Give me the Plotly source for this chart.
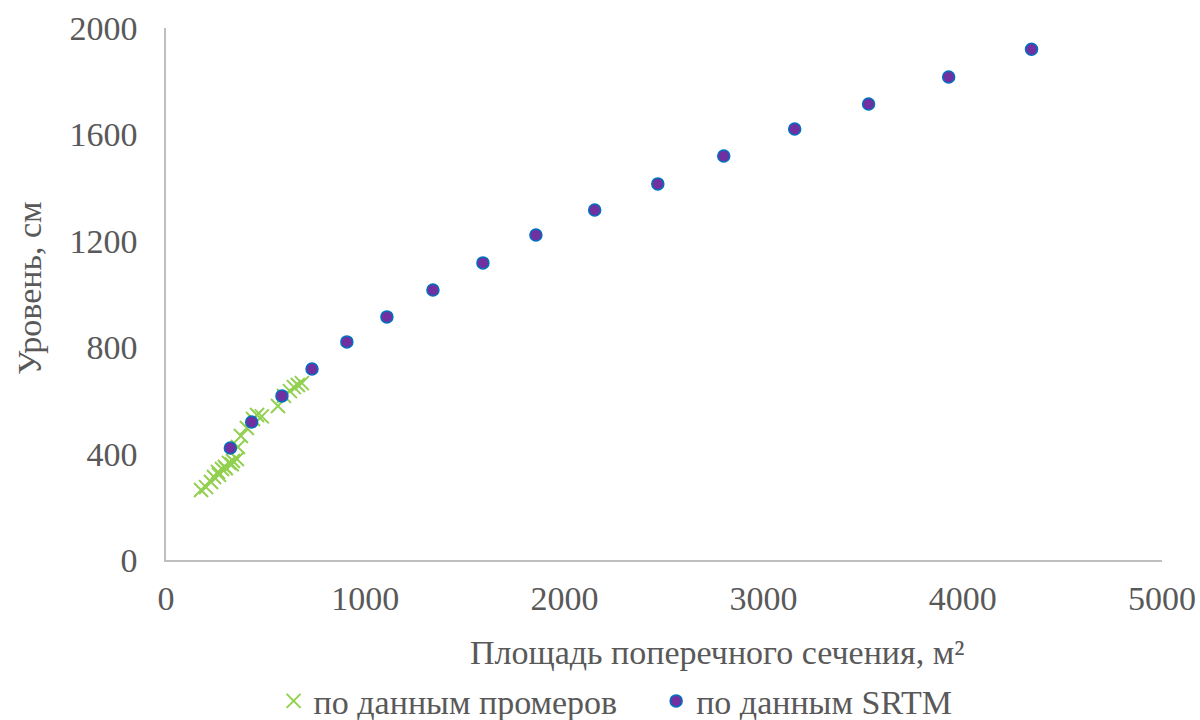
import plotly.graph_objects as go

# Measured data (по данным промеров)
meas_area = [176, 201, 226, 241, 261, 281, 296, 316, 336, 356, 361, 376, 406, 437, 457,
             481, 562, 592, 622, 642, 662, 682, 266, 300, 330]
meas_level = [263, 274, 293, 312, 331, 342, 350, 365, 372, 380, 425, 466, 496, 530, 545,
              540, 579, 617, 635, 650, 658, 665, 320, 345, 360]

# SRTM data (по данным SRTM)
srtm_area = [323, 430, 582, 733, 908, 1109, 1340, 1591, 1857, 2152, 2469, 2800, 3156, 3527, 3929, 4345]
srtm_level = [421, 519, 617, 718, 820, 914, 1015, 1117, 1222, 1316, 1414, 1519, 1620, 1714, 1816, 1920]

x_ticks = [0, 1000, 2000, 3000, 4000, 5000]
y_ticks = [0, 400, 800, 1200, 1600, 2000]

FONT = "Liberation Serif, Times New Roman, serif"
GREY = "#595959"
FS = 34

fig = go.Figure()
fig.add_trace(go.Scatter(
    x=meas_area, y=meas_level, mode="markers",
    name="по данным промеров" + "\u00a0" * 4,
    marker=dict(symbol="x-thin", size=14, color="#92D050",
                line=dict(color="#92D050", width=2)),
))
fig.add_trace(go.Scatter(
    x=srtm_area, y=srtm_level, mode="markers", name="по данным SRTM",
    marker=dict(symbol="circle", size=12, color="#7030A0",
                line=dict(color="#0070C0", width=1.5)),
))

fig.update_layout(
    width=1200, height=720,
    paper_bgcolor="white", plot_bgcolor="white",
    margin=dict(l=166, r=38, t=28, b=160, autoexpand=False),
    font=dict(family=FONT, size=FS, color=GREY),
    showlegend=True,
    legend=dict(orientation="h", xref="container", yref="container",
                x=0.513, xanchor="center", y=0.026, yanchor="middle",
                font=dict(family=FONT, size=FS, color=GREY), itemwidth=30,
                tracegroupgap=0),
    xaxis=dict(range=[0, 5000], tickvals=x_ticks, showgrid=False, zeroline=False,
               showline=True, linecolor="#BFBFBF", linewidth=1.5, automargin=False,
               ticks="outside", ticklen=7, tickcolor="rgba(0,0,0,0)",
               tickfont=dict(family=FONT, size=FS, color=GREY)),
    yaxis=dict(range=[0, 2000], tickvals=y_ticks, showgrid=False, zeroline=False,
               showline=True, linecolor="#BFBFBF", linewidth=1.5, automargin=False,
               ticks="outside", ticklen=20, tickcolor="rgba(0,0,0,0)",
               tickfont=dict(family=FONT, size=FS, color=GREY)),
)

fig.add_annotation(
    text="Площадь поперечного сечения, м²", xref="paper", yref="paper",
    x=0.553, y=-0.173, xanchor="center", yanchor="middle", showarrow=False,
    font=dict(family=FONT, size=FS, color=GREY),
)
fig.add_annotation(
    text="Уровень, см", xref="paper", yref="paper", textangle=-90,
    x=-0.1365, y=0.51, xanchor="center", yanchor="middle", showarrow=False,
    font=dict(family=FONT, size=FS, color=GREY),
)

fig.write_html("out.html", config={"displayModeBar": False},
               post_script="document.body.style.margin='0px';")
